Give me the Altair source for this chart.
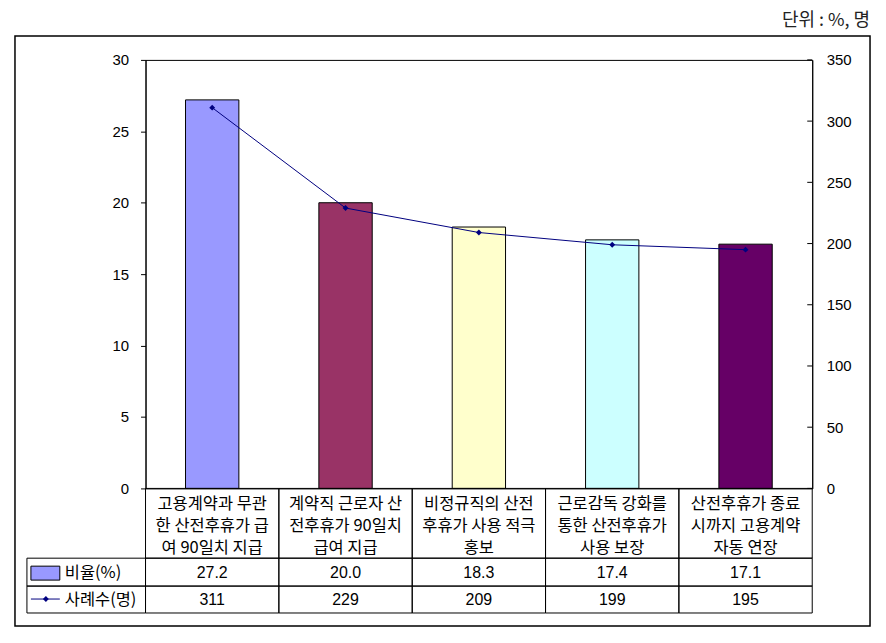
import altair as alt
import pandas as pd

categories = [
    "고용계약과 무관\n한 산전후휴가 급\n여 90일치 지급",
    "계약직 근로자 산\n전후휴가 90일치\n급여 지급",
    "비정규직의 산전\n후휴가 사용 적극\n홍보",
    "근로감독 강화를\n통한 산전후휴가\n사용 보장",
    "산전후휴가 종료\n시까지 고용계약\n자동 연장",
]
rates = [27.2, 20.0, 18.3, 17.4, 17.1]
counts = [311, 229, 209, 199, 195]
bar_colors = ["#9999FF", "#993366", "#FFFFCC", "#CCFFFF", "#660066"]
left_ticks = [0, 5, 10, 15, 20, 25, 30]
right_ticks = [0, 50, 100, 150, 200, 250, 300, 350]
row_labels = ["비율(%)", "사례수(명)"]
unit_label = "단위 : %, 명"

KFONT = "Noto Sans CJK KR"
NFONT = "Liberation Sans"
W, H = 669, 430

df = pd.DataFrame({"cat": categories, "rate": rates, "count": counts, "color": bar_colors})
one = pd.DataFrame({"a": [0]})

x = alt.X("cat:N", sort=categories,
          scale=alt.Scale(domain=categories, paddingInner=0, paddingOuter=0),
          axis=None)

left_axis = alt.Axis(values=left_ticks, orient="left", tickSize=5, labelPadding=12,
                     grid=False, domainColor="black", tickColor="black",
                     labelFont=NFONT, labelFontSize=15, labelColor="black", title=None)
right_axis = alt.Axis(values=right_ticks, orient="right", tickSize=0, labelPadding=14,
                      grid=False, domainColor="black", labelFont=NFONT, labelFontSize=15,
                      labelColor="black", title=None)

bars = alt.Chart(df).mark_bar(width=alt.RelativeBandSize(0.4), stroke="black",
                              strokeWidth=1).encode(
    x=x,
    y=alt.Y("rate:Q", scale=alt.Scale(domain=[0, 30]), axis=left_axis),
    color=alt.Color("color:N", scale=None, legend=None),
)

yr = alt.Y("count:Q", scale=alt.Scale(domain=[0, 350]), axis=right_axis)
line = alt.Chart(df).mark_line(color="#000080", strokeWidth=1).encode(x=x, y=yr)
pts = alt.Chart(df).mark_point(shape="diamond", size=35, color="#000080",
                               filled=True, opacity=1).encode(x=x, y=yr)
rt = alt.Chart(pd.DataFrame({"count": right_ticks})).mark_rule(color="black").encode(
    x=alt.value(W - 5), x2=alt.value(W), y=yr)
right_layer = alt.layer(line, pts, rt)

cell_style = dict(fillOpacity=0, stroke="black", strokeWidth=1)
header_cells = alt.Chart(df).mark_rect(**cell_style).encode(x=x, y=alt.value(430), y2=alt.value(500))
rate_cells = alt.Chart(df).mark_rect(**cell_style).encode(x=x, y=alt.value(500), y2=alt.value(528))
count_cells = alt.Chart(df).mark_rect(**cell_style).encode(x=x, y=alt.value(528), y2=alt.value(555))
lab_cell1 = alt.Chart(one).mark_rect(**cell_style).encode(
    x=alt.value(-119), x2=alt.value(0), y=alt.value(500), y2=alt.value(528))
lab_cell2 = alt.Chart(one).mark_rect(**cell_style).encode(
    x=alt.value(-119), x2=alt.value(0), y=alt.value(528), y2=alt.value(555))

header_text = alt.Chart(df).mark_text(lineBreak="\n", font=KFONT, fontSize=16.5,
                                      lineHeight=21.7, baseline="middle", align="center",
                                      color="black").encode(
    x=x, y=alt.value(446), text="cat:N")
rate_text = alt.Chart(df).mark_text(font=NFONT, fontSize=16, baseline="middle",
                                    color="black").encode(
    x=x, y=alt.value(515), text=alt.Text("rate:Q", format=".1f"))
count_text = alt.Chart(df).mark_text(font=NFONT, fontSize=16, baseline="middle",
                                     color="black").encode(
    x=x, y=alt.value(542), text=alt.Text("count:Q", format="d"))

lab1 = alt.Chart(one).mark_text(text=row_labels[0], font=KFONT, fontSize=16.5, align="left",
                                baseline="middle", color="black").encode(
    x=alt.value(-81), y=alt.value(515))
lab2 = alt.Chart(one).mark_text(text=row_labels[1], font=KFONT, fontSize=16.5, align="left",
                                baseline="middle", color="black").encode(
    x=alt.value(-81), y=alt.value(542))
swatch = alt.Chart(one).mark_rect(fill="#9999FF", stroke="black", strokeWidth=1).encode(
    x=alt.value(-115), x2=alt.value(-86), y=alt.value(508), y2=alt.value(522))
lglyph = alt.Chart(one).mark_rule(color="#000080", strokeWidth=1).encode(
    x=alt.value(-115), x2=alt.value(-86), y=alt.value(541))
lpoint = alt.Chart(one).mark_point(shape="diamond", size=35, color="#000080", filled=True,
                                   opacity=1).encode(x=alt.value(-100), y=alt.value(541))

frame = alt.Chart(one).mark_rect(fillOpacity=0, stroke="black", strokeWidth=1.5).encode(
    x=alt.value(-131), x2=alt.value(727), y=alt.value(-24), y2=alt.value(568))
unit = alt.Chart(one).mark_text(text=unit_label, font=KFONT, fontSize=18, align="right",
                                baseline="middle", color="#222222").encode(
    x=alt.value(727), y=alt.value(-39))

chart = alt.layer(
    bars, right_layer,
    header_cells, rate_cells, count_cells, lab_cell1, lab_cell2,
    header_text, rate_text, count_text, lab1, lab2, swatch, lglyph, lpoint,
    frame, unit,
).resolve_scale(y="independent").properties(
    width=W, height=H,
    autosize=alt.AutoSizeParams(type="none"),
    padding={"left": 138, "top": 51, "right": 66, "bottom": 142},
    background="white",
).configure_view(stroke="black", strokeWidth=1)

chart.save("out.html", embed_options={"renderer": "svg", "actions": False})
